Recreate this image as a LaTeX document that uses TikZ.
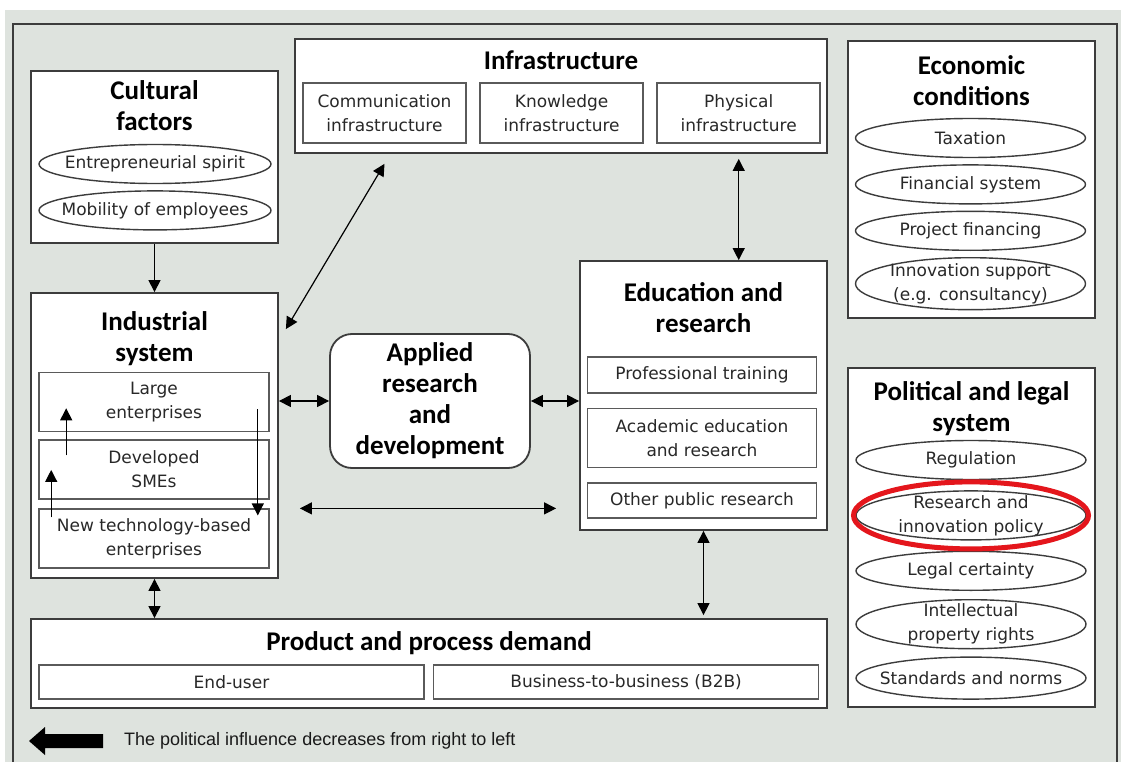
\documentclass[tikz,border=0pt]{standalone}
\usepackage{fontspec}
\setmainfont{Carlito}
\newfontfamily\itemfam{DejaVu Sans}
\newfontfamily\notefam{Liberation Sans}
\usetikzlibrary{shapes.geometric, arrows.meta, positioning}

\definecolor{bggray}{RGB}{222,227,222}
\definecolor{framegray}{RGB}{60,60,60}
\definecolor{itemgray}{RGB}{90,90,90}
\definecolor{itemtext}{RGB}{40,40,40}
\definecolor{markred}{RGB}{228,22,28}

\newcommand{\grouptitlefont}{\fontsize{27}{31}\selectfont\bfseries}
\newcommand{\itemtextfont}{\itemfam\fontsize{17}{24}\selectfont}

\begin{document}
\begin{tikzpicture}[
    x=1pt, y=-1pt,
    node distance=8pt,
    group/.style={rectangle, draw=framegray, line width=1.8pt, fill=white, inner sep=0pt},
    title/.style={font=\grouptitlefont, align=center, inner sep=0pt},
    item/.style={rectangle, draw=itemgray, line width=1.6pt, fill=white, font=\itemtextfont, text=itemtext, align=center, inner sep=0pt},
    oval/.style={ellipse, draw=framegray, line width=1.4pt, fill=white, font=\itemtextfont, text=itemtext, align=center, inner xsep=-25pt, inner ysep=-3pt, minimum width=230pt, minimum height=39pt},
    arrow/.style={-{Triangle[length=12pt,width=12pt]}, line width=1.2pt},
    biarrow/.style={{Triangle[length=12pt,width=12pt]}-{Triangle[length=12pt,width=12pt]}, line width=1.2pt}
]
\useasboundingbox (0,0) rectangle (1121,762);
\fill[bggray] (5,10) rectangle (1121,762);
\draw[framegray, line width=1.8pt] (13,762) -- (13,24) -- (1117,24) -- (1117,762);

% Cultural factors
\node[group, minimum width=247pt, minimum height=172pt] (cult) at (154.5,157) {};
\node[title] (culttitle) at (154.5,106) {Cultural\\factors};
\node[oval, minimum width=232pt] (spirit) at (155,164) {Entrepreneurial spirit};
\node[oval, minimum width=232pt, below=6pt of spirit] (mobil) {Mobility of employees};

% Infrastructure
\node[group, minimum width=532pt, minimum height=114pt] (infra) at (561,96) {};
\node[title] (infratitle) at (561,60.5) {Infrastructure};
\node[item, minimum width=163pt, minimum height=60pt] (comm) at (384.5,113) {Communication\\infrastructure};
\node[item, minimum width=163pt, minimum height=60pt, right=12.5pt of comm] (know) {Knowledge\\infrastructure};
\node[item, minimum width=163pt, minimum height=60pt, right=12.5pt of know] (phys) {Physical\\infrastructure};

% Economic conditions
\node[group, minimum width=247pt, minimum height=277pt] (econ) at (971.5,179.5) {};
\node[title] (econtitle) at (971.5,80.5) {Economic\\conditions};
\node[oval] (tax) at (970.5,138) {Taxation};
\node[oval, below=6pt of tax] (fin) {Financial system};
\node[oval, below=6pt of fin] (proj) {Project financing};
\node[oval, minimum height=52pt, inner ysep=-6pt, below=6pt of proj] (innov) {Innovation support\\(e.g. consultancy)};

% Industrial system
\node[group, minimum width=247pt, minimum height=285pt] (ind) at (154.5,435.5) {};
\node[title] (indtitle) at (154.5,339) {Industrial\\system};
\node[item, minimum width=230pt, minimum height=59pt] (large) at (154,402) {Large\\enterprises};
\node[item, minimum width=230pt, minimum height=59pt, below=7pt of large] (sme) {Developed\\SMEs};
\node[item, minimum width=230pt, minimum height=59pt, below=8.5pt of sme] (ntbf) {New technology-based\\enterprises};

% Applied research
\node[group, rounded corners=22pt, minimum width=200pt, minimum height=134pt, font=\grouptitlefont, align=center] (appl) at (430,401) {Applied\\research\\and\\development};

% Education and research
\node[group, minimum width=247pt, minimum height=269pt] (edu) at (703.5,395.5) {};
\node[title] (edutitle) at (703.5,307.5) {Education and\\research};
\node[item, minimum width=229pt, minimum height=36pt] (prof) at (702,375) {Professional training};
\node[item, minimum width=229pt, minimum height=59pt, below=14pt of prof] (acad) {Academic education\\and research};
\node[item, minimum width=229pt, minimum height=35pt, below=14pt of acad] (opr) {Other public research};

% Product and process demand
\node[group, minimum width=796pt, minimum height=89pt] (prod) at (429,663.5) {};
\node[title] (prodtitle) at (429,643) {Product and process demand};
\node[item, minimum width=385pt, minimum height=34pt] (enduser) at (231.5,682) {End-user};
\node[item, minimum width=385pt, minimum height=34pt, right=8pt of enduser] (btob) {Business-to-business (B2B)};

% Political and legal system
\node[group, minimum width=247pt, minimum height=339pt] (pol) at (971.5,537.5) {};
\node[title] (poltitle) at (971.5,408.5) {Political and legal\\system};
\node[oval] (reg) at (971,460) {Regulation};
\node[oval, minimum height=49pt, inner ysep=-6pt, below=10pt of reg] (rip) {Research and\\innovation policy};
\node[oval, below=10pt of rip] (legal) {Legal certainty};
\node[oval, minimum height=49pt, inner ysep=-6pt, below=8pt of legal] (ipr) {Intellectual\\property rights};
\node[oval, minimum height=42pt, below=7pt of ipr] (stds) {Standards and norms};
\node[ellipse, draw=markred, line width=5pt, inner sep=0pt, minimum width=235pt, minimum height=67pt] (mark) at (rip) {};

% Arrows
\draw[arrow] (cult) -- (ind);
\draw[biarrow] (ind) -- (prod.north -| ind);
\draw[biarrow] ([xshift=7pt,yshift=-37pt]ind.north east) -- ([yshift=-20pt]comm.south);
\draw[biarrow, shorten <=5pt] (infra.south -| phys) -- (edu.north -| phys);
\draw[biarrow] (appl.west -| ind.east) -- (appl.west);
\draw[biarrow] (appl.east) -- (appl.east -| edu.west);
\draw[biarrow, shorten <=21pt, shorten >=23pt] (ntbf.north -| ind.east) -- (ntbf.north -| edu.west);
\draw[biarrow, shorten >=3pt] (edu.south) -- (prod.north -| edu.south);
\draw[arrow] ([xshift=28pt,yshift=-16pt]sme.north west) -- ([xshift=28pt,yshift=24pt]large.south west);
\draw[arrow] ([xshift=13pt,yshift=-9pt]ntbf.north west) -- ([xshift=13pt,yshift=30pt]sme.south west);
\draw[arrow] ([xshift=-12pt,yshift=23pt]large.south east) -- ([xshift=-12pt,yshift=-7pt]ntbf.north east);

% Note
\fill (29,741) -- (45,727) -- (45,734) -- (103,734) -- (103,748) -- (45,748) -- (45,755) -- cycle;
\node[font=\notefam\fontsize{18}{22}\selectfont, text=black!90, anchor=west, inner sep=0pt] (note) at (124,741) {The political influence decreases from right to left};

\end{tikzpicture}
\end{document}
